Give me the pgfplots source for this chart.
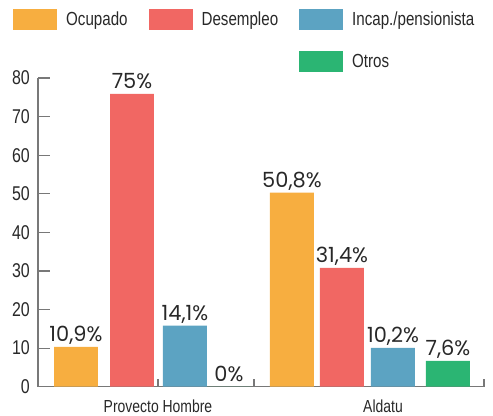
\documentclass[border=0pt]{standalone}
\usepackage{fontspec}
\setmainfont{Liberation Sans}[FakeStretch=0.8]
\newfontfamily\valfont{Poppins}
\usepackage{pgfplots}
\pgfplotsset{compat=1.18}

\definecolor{ocup}{RGB}{247,174,64}
\definecolor{desem}{RGB}{241,103,99}
\definecolor{incap}{RGB}{92,163,194}
\definecolor{otros}{RGB}{43,181,115}
\definecolor{axisgray}{RGB}{120,120,120}
\definecolor{txt}{RGB}{40,40,40}

\begin{document}
\begin{tikzpicture}
\begin{axis}[
    scale only axis,
    width=446bp, height=308.7bp,
    xmin=38, xmax=484,
    ymin=0, ymax=80,
    axis x line=bottom, axis y line=left,
    axis line style={axisgray, line width=1.2bp, -},
    every tick/.style={axisgray, line width=1.2bp},
    tick align=inside,
    ytick={0,10,...,80},
    major tick length=12bp,
    xtick={254,484},
    xticklabels={},
    x tick style={/pgfplots/major tick length=8bp},
    extra x ticks={158,383},
    extra x tick labels={Provecto Hombre, Aldatu},
    extra x tick style={major tick length=0pt,
        xticklabel style={anchor=north, inner sep=0pt, yshift=-13bp}},
    xticklabel style={font=\fontsize{17.5}{20}\selectfont, text=txt},
    yticklabel style={font=\fontsize{20}{24}\selectfont, text=txt, inner sep=0pt, xshift=-8bp},
    /pgf/number format/assume math mode=true,
    clip=false,
    bar width=44bp,
    nodes near coords,
    point meta=explicit symbolic,
    every node near coord/.append style={font=\valfont\fontsize{21}{24}\selectfont, text=txt,
        anchor=base, inner sep=0pt, yshift=5bp},
    legend columns=3,
    legend cell align=left,
    legend style={at={(-0.0561,1.2235)}, anchor=north west, draw=none, fill=none,
        inner sep=0pt, font=\fontsize{19}{22}\selectfont, text=txt, row sep=21bp,
        /tikz/every even column/.append style={column sep=19bp}},
    legend image code/.code={\fill[#1] (0bp,-10.5bp) rectangle (44bp,10.5bp); \path (51bp,0bp);},
]
\addplot[ybar, bar shift=0pt, fill=ocup, draw=none] coordinates {(76,10.3) [10,9\%] (292,50.3) [50,8\%]};
\addlegendentry{Ocupado}
\addplot[ybar, bar shift=0pt, fill=desem, draw=none] coordinates {(132,75.9) [75\%] (342,30.8) [31,4\%]};
\addlegendentry{Desempleo}
\addplot[ybar, bar shift=0pt, fill=incap, draw=none] coordinates {(185,15.8) [14,1\%] (393,10.05) [10,2\%]};
\addlegendentry{Incap./pensionista}
\addlegendimage{empty legend}\addlegendentry{}
\addlegendimage{empty legend}\addlegendentry{}
\addplot[ybar, bar shift=0pt, fill=otros, draw=none] coordinates {(229,0) [0\%] (448,6.7) [7,6\%]};
\addlegendentry{Otros}
\path (rel axis cs:-0.0852,-0.0949) rectangle (rel axis cs:1.0202,1.2527);
\end{axis}
\end{tikzpicture}
\end{document}
